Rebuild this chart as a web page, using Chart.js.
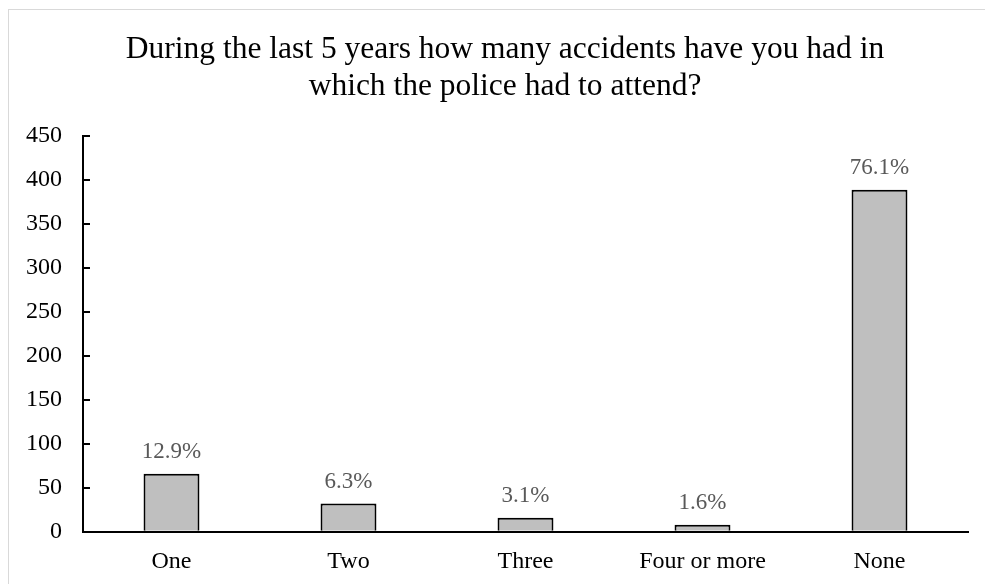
<!DOCTYPE html>
<html>
<head>
<meta charset="utf-8">
<script src="https://cdn.jsdelivr.net/npm/chart.js@4/dist/chart.umd.min.js"></script>
<style>
  html, body { margin: 0; padding: 0; background: #fff; overflow: hidden; }
  #frame {
    position: absolute; left: 8px; top: 9px;
    width: 1010px; height: 600px;
    border: 1px solid #d9d9d9;
  }
  #wrap { position: absolute; left: 0; top: 0; width: 985px; height: 584px; }
</style>
</head>
<body>
<div id="frame"></div>
<div id="wrap"><canvas id="accidentsChart"></canvas></div>
<script>
var categories = ['One', 'Two', 'Three', 'Four or more', 'None'];
var counts = [66, 32, 16, 8, 389];
var yTicks = [0, 50, 100, 150, 200, 250, 300, 350, 400, 450];
var titleLines = ['During the last 5 years how many accidents have you had in',
                  'which the police had to attend?'];

var total = counts.reduce(function (a, b) { return a + b; }, 0);
var serif = "'Liberation Serif', 'Times New Roman', serif";

// two-line heading, centred over the whole card rather than the plot
var cardTitle = {
  id: 'cardTitle',
  afterDraw: function (chart) {
    var ctx = chart.ctx;
    ctx.save();
    ctx.font = '31.5px ' + serif;
    ctx.fillStyle = '#000';
    ctx.textAlign = 'center';
    ctx.textBaseline = 'alphabetic';
    titleLines.forEach(function (line, i) {
      ctx.fillText(line, 505, 58 + i * 37.3);
    });
    ctx.restore();
  }
};

// percentage of respondents written over each bar
var barLabels = {
  id: 'barLabels',
  afterDatasetsDraw: function (chart) {
    var ctx = chart.ctx;
    var meta = chart.getDatasetMeta(0);
    ctx.save();
    ctx.font = '23px ' + serif;
    ctx.fillStyle = '#595959';
    ctx.textAlign = 'center';
    ctx.textBaseline = 'alphabetic';
    meta.data.forEach(function (bar, i) {
      var pct = (counts[i] / total * 100).toFixed(1) + '%';
      ctx.fillText(pct, bar.x, bar.y - 16);
    });
    ctx.restore();
  }
};

var ctx = document.getElementById('accidentsChart');
var accidentsChart = new Chart(ctx, {
  type: 'bar',
  data: {
    labels: categories,
    datasets: [{
      data: counts,
      backgroundColor: '#bfbfbf',
      borderColor: '#000',
      borderWidth: 2,
      borderSkipped: 'bottom',
      categoryPercentage: 1,
      barPercentage: 0.316
    }]
  },
  options: {
    responsive: true,
    maintainAspectRatio: false,
    animation: false,
    layout: { padding: { top: 136, left: 8, right: 17, bottom: 0 } },
    plugins: {
      legend: { display: false },
      tooltip: { enabled: false },
      title: { display: false }
    },
    scales: {
      x: {
        grid: { display: false },
        border: { display: true, color: '#000', width: 2 },
        ticks: { color: '#000', font: { family: serif, size: 24 }, padding: 8 },
        afterFit: function (scale) { scale.height = 52.3; }
      },
      y: {
        min: 0,
        max: 450,
        afterBuildTicks: function (scale) {
          scale.ticks = yTicks.map(function (v) { return { value: v }; });
        },
        grid: {
          display: true,
          drawOnChartArea: false,
          drawTicks: true,
          tickLength: -7,
          color: '#000',
          lineWidth: 2
        },
        border: { display: true, color: '#000', width: 2 },
        ticks: { color: '#000', font: { family: serif, size: 24 }, padding: 28 },
        afterFit: function (scale) { scale.width = 75; }
      }
    }
  },
  plugins: [barLabels, cardTitle]
});
</script>
</body>
</html>
